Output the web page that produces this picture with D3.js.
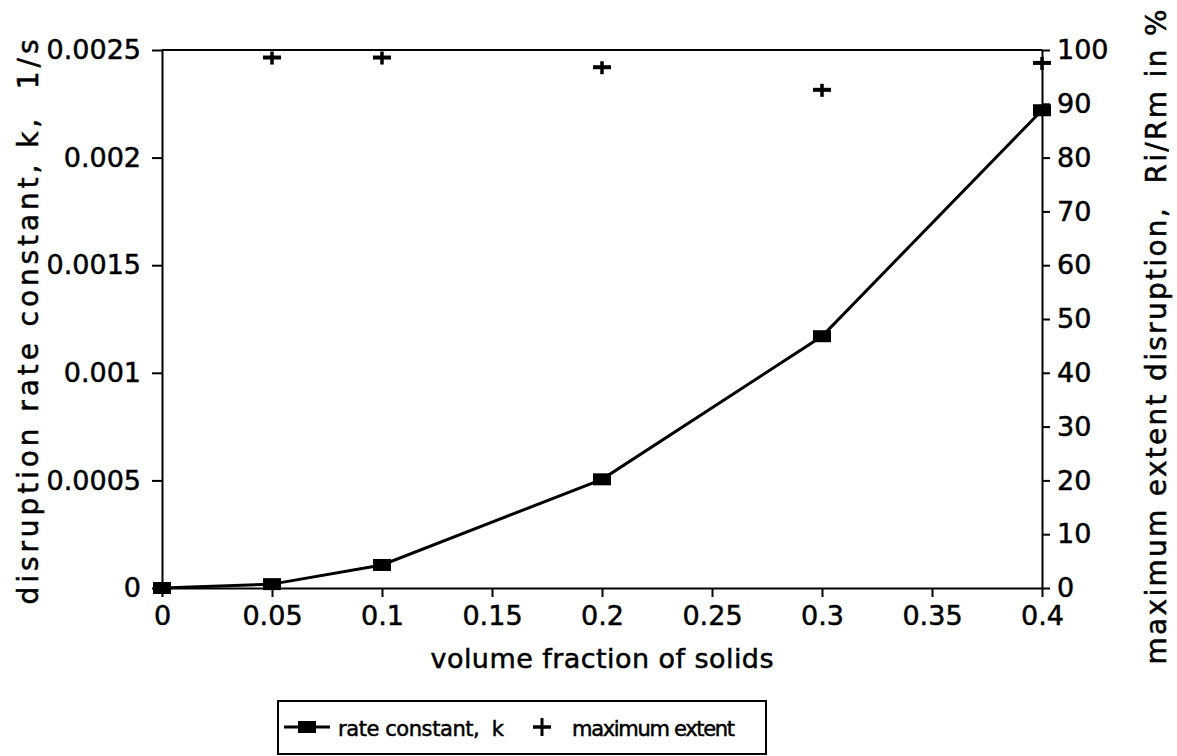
<!DOCTYPE html>
<html>
<head>
<meta charset="utf-8">
<script src="https://cdn.jsdelivr.net/npm/d3@7"></script>
<style>
  body { margin: 0; background: #fff; }
  svg text { font-family: "DejaVu Sans", sans-serif; fill: #000; stroke: #000; stroke-width: 0.5px; white-space: pre; }
</style>
</head>
<body>
<div id="chart"></div>
<script>
// data
const fraction = [0, 0.05, 0.1, 0.2, 0.3, 0.4];
const rateK = [0, 0.000018, 0.000107, 0.000505, 0.00117, 0.00222];
const extentFraction = [0.05, 0.1, 0.2, 0.3, 0.4];
const maxExtent = [98.6, 98.6, 96.8, 92.6, 97.6];

const xTicks = [0, 0.05, 0.1, 0.15, 0.2, 0.25, 0.3, 0.35, 0.4];
const xTickLabels = ["0", "0.05", "0.1", "0.15", "0.2", "0.25", "0.3", "0.35", "0.4"];
const kTicks = [0, 0.0005, 0.001, 0.0015, 0.002, 0.0025];
const kTickLabels = ["0", "0.0005", "0.001", "0.0015", "0.002", "0.0025"];
const pctTicks = [0, 10, 20, 30, 40, 50, 60, 70, 80, 90, 100];

const W = 1177, H = 756;
const margin = { top: 50, right: 135, bottom: 168, left: 162 };
const width = W - margin.left - margin.right;
const height = H - margin.top - margin.bottom;

const svg = d3.select("#chart").append("svg")
    .attr("width", W)
    .attr("height", H);

const g = svg.append("g")
    .attr("transform", `translate(${margin.left},${margin.top})`);

const x = d3.scaleLinear().domain([0, 0.4]).range([0, width]);
const yK = d3.scaleLinear().domain([0, 0.0025]).range([height, 0]);
const yPct = d3.scaleLinear().domain([0, 100]).range([height, 0]);

// top frame line
g.append("line")
    .attr("x1", 0).attr("x2", width)
    .attr("y1", 0).attr("y2", 0)
    .attr("stroke", "#000").attr("stroke-width", 2);

const styleAxis = sel => {
  sel.select(".domain").attr("stroke-width", 2);
  sel.selectAll(".tick line").attr("stroke-width", 2);
  sel.selectAll(".tick text").style("font-size", "27px").style("font-family", null);
};

g.append("g")
    .attr("transform", `translate(0,${height})`)
    .call(d3.axisBottom(x).tickValues(xTicks)
      .tickFormat((d, i) => xTickLabels[i]).tickSize(9).tickSizeOuter(0).tickPadding(9))
    .call(styleAxis);

g.append("g")
    .call(d3.axisLeft(yK).tickValues(kTicks)
      .tickFormat((d, i) => kTickLabels[i]).tickSize(10).tickSizeOuter(0).tickPadding(11))
    .call(styleAxis);

g.append("g")
    .attr("transform", `translate(${width},0)`)
    .call(d3.axisRight(yPct).tickValues(pctTicks)
      .tickFormat(d3.format("d")).tickSize(8).tickSizeOuter(0).tickPadding(7))
    .call(styleAxis);

// axis titles
svg.append("text")
    .attr("x", margin.left + width / 2)
    .attr("y", 668)
    .attr("text-anchor", "middle")
    .attr("textLength", 343)
    .attr("lengthAdjust", "spacing")
    .style("font-size", "27px")
    .text("volume fraction of solids");

svg.append("text")
    .attr("transform", "translate(38,322) rotate(-90)")
    .attr("text-anchor", "middle")
    .attr("textLength", 565)
    .attr("lengthAdjust", "spacing")
    .style("font-size", "28px")
    .text("disruption rate constant, k,  1/s");

svg.append("text")
    .attr("transform", "translate(1166,337) rotate(-90)")
    .attr("text-anchor", "middle")
    .attr("textLength", 655)
    .attr("lengthAdjust", "spacing")
    .style("font-size", "28px")
    .text("maximum extent disruption,  Ri/Rm in %");

// rate constant line + squares
const kData = fraction.map((f, i) => ({ f, k: rateK[i] }));
g.append("path")
    .datum(kData)
    .attr("fill", "none")
    .attr("stroke", "#000")
    .attr("stroke-width", 3)
    .attr("d", d3.line().x(d => x(d.f)).y(d => yK(d.k)));

g.selectAll("rect.k")
    .data(kData)
    .join("rect")
      .attr("class", "k")
      .attr("x", d => x(d.f) - 9)
      .attr("y", d => yK(d.k) - 6)
      .attr("width", 18)
      .attr("height", 12)
      .attr("fill", "#000");

// maximum extent plus markers
const extData = extentFraction.map((f, i) => ({ f, v: maxExtent[i] }));
const pl = g.selectAll("g.ext")
    .data(extData)
    .join("g")
      .attr("class", "ext")
      .attr("transform", d => `translate(${x(d.f)},${yPct(d.v)})`);
pl.append("line").attr("x1", -9).attr("x2", 9).attr("y1", 0).attr("y2", 0)
    .attr("stroke", "#000").attr("stroke-width", 4);
pl.append("line").attr("x1", 0).attr("x2", 0).attr("y1", -6).attr("y2", 7)
    .attr("stroke", "#000").attr("stroke-width", 3.5);

// legend
const legend = svg.append("g").attr("transform", "translate(278,701)");
legend.append("rect")
    .attr("width", 488).attr("height", 53)
    .attr("fill", "none").attr("stroke", "#000").attr("stroke-width", 2);
legend.append("line")
    .attr("x1", 6).attr("x2", 52).attr("y1", 26).attr("y2", 26)
    .attr("stroke", "#000").attr("stroke-width", 3);
legend.append("rect")
    .attr("x", 20).attr("y", 20).attr("width", 18).attr("height", 12)
    .attr("fill", "#000");
legend.append("text")
    .attr("x", 60).attr("y", 35)
    .attr("textLength", 166)
    .attr("lengthAdjust", "spacing")
    .style("font-size", "21px")
    .text("rate constant,  k");
const lp = legend.append("g").attr("transform", "translate(264,26)");
lp.append("line").attr("x1", -9).attr("x2", 9).attr("y1", 0).attr("y2", 0)
    .attr("stroke", "#000").attr("stroke-width", 3.5);
lp.append("line").attr("x1", 0).attr("x2", 0).attr("y1", -9).attr("y2", 9)
    .attr("stroke", "#000").attr("stroke-width", 3);
legend.append("text")
    .attr("x", 294).attr("y", 35)
    .attr("textLength", 163)
    .attr("lengthAdjust", "spacing")
    .style("font-size", "21px")
    .text("maximum extent");
</script>
</body>
</html>
